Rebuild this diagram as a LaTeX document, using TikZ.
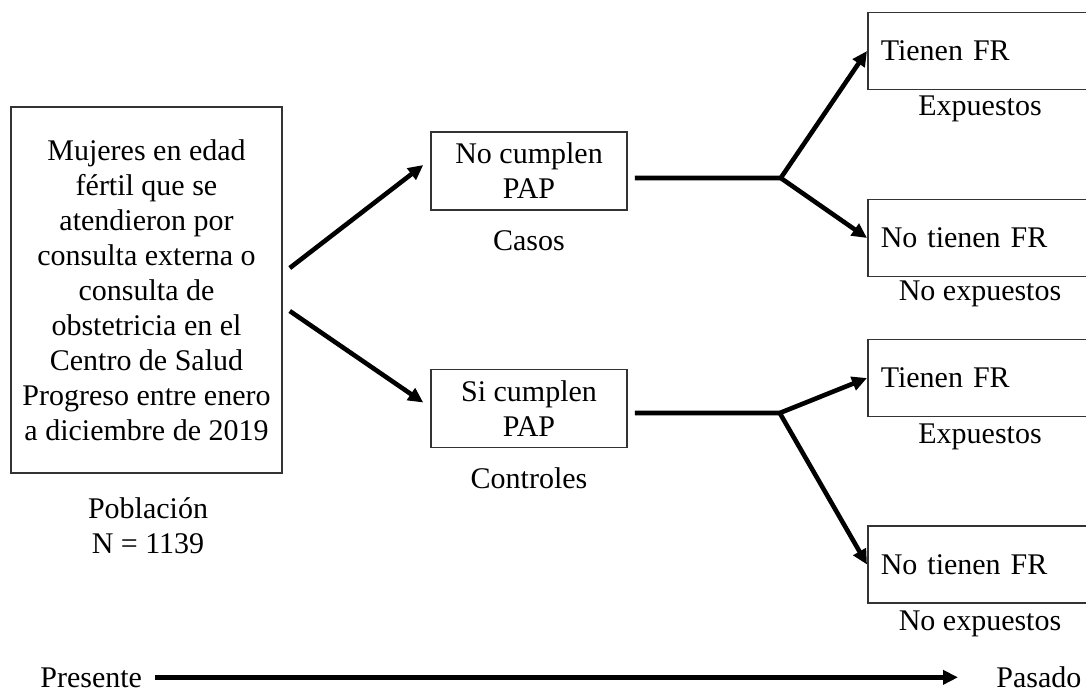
\documentclass[tikz,border=0pt]{standalone}
\usepackage{fontspec}
\setmainfont{Liberation Serif}
\usetikzlibrary{arrows.meta}
\tikzset{
  popbox/.style={draw=black!80, line width=0.75pt, align=center, minimum width=135.5pt, minimum height=183pt, inner sep=0pt},
  groupbox/.style={draw=black!80, line width=0.75pt, align=center, minimum width=98pt, minimum height=39pt, inner sep=0pt},
  riskbox/.style={draw=black!80, line width=0.75pt, anchor=west, text width=100pt, align=left, inner xsep=6.5pt, inner ysep=0pt, minimum height=38.5pt},
  tag/.style={anchor=base, inner sep=0pt},
  arrowline/.style={line width=2.3pt, line join=round, -{Triangle[length=7.5pt,width=7pt]}},
  thickline/.style={line width=2.3pt}
}

\begin{document}
\begin{tikzpicture}[x=0.5pt, y=-0.5pt, font=\fontsize{15pt}{17.5pt}\selectfont]
  \useasboundingbox (0,0) rectangle (1086,693);
  \clip (0,0) rectangle (1086,693);

  % population
  \node[popbox] (pob) at (146.5,290) {Mujeres en edad\\ fértil que se\\ atendieron por\\ consulta externa o\\ consulta de\\ obstetricia en el\\ Centro de Salud\\ Progreso entre enero\\ a diciembre de 2019};
  \node[align=center, inner sep=0pt] (pobtag) at (148,525.5) {Población\\ N = 1139};

  % cases and controls
  \node[groupbox] (nocum) at (529,171) {No cumplen\\ PAP};
  \node[tag] (casos) at (529,250) {Casos};
  \node[groupbox] (sicum) at (529,408.5) {Si cumplen\\ PAP};
  \node[tag] (controles) at (529,488) {Controles};

  % exposure
  \node[riskbox] (exp1) at (867,51) {Tienen FR};
  \node[tag] (exp1tag) at (980,115) {Expuestos};
  \node[riskbox] (nexp1) at (867,238) {No tienen FR};
  \node[tag] (nexp1tag) at (980,300) {No expuestos};
  \node[riskbox] (exp2) at (867,378) {Tienen FR};
  \node[tag] (exp2tag) at (980,443) {Expuestos};
  \node[riskbox] (nexp2) at (867,564.5) {No tienen FR};
  \node[tag] (nexp2tag) at (980,630) {No expuestos};

  \draw[arrowline] ([xshift=3.5pt,yshift=11pt]pob.east) -- ([xshift=-3.5pt,yshift=3pt]nocum.west);
  \draw[arrowline] ([xshift=3.5pt,yshift=-10.5pt]pob.east) -- ([xshift=-3.5pt,yshift=3pt]sicum.west);

  \coordinate (jn1) at ([xshift=76.5pt,yshift=-3.5pt]nocum.east);
  \draw[arrowline] ([xshift=3.5pt,yshift=-3.5pt]nocum.east) -- (jn1) -- (exp1.west);
  \draw[arrowline, line cap=round] (jn1) -- (nexp1.west);

  \coordinate (jn2) at ([xshift=76pt,yshift=-2.25pt]sicum.east);
  \draw[arrowline] ([xshift=3.5pt,yshift=-2.25pt]sicum.east) -- (jn2) -- (exp2.west);
  \draw[arrowline, line cap=round] (jn2) -- (nexp2.west);

  % time axis
  \node[anchor=base west, inner sep=0pt] (presente) at (40,687) {Presente};
  \node[anchor=base west, inner sep=0pt] (pasado) at (996,687) {Pasado};
  \draw[arrowline, shorten <=6.5pt, shorten >=19pt] (presente.east) -- (presente.east -| pasado.west);
\end{tikzpicture}
\end{document}
